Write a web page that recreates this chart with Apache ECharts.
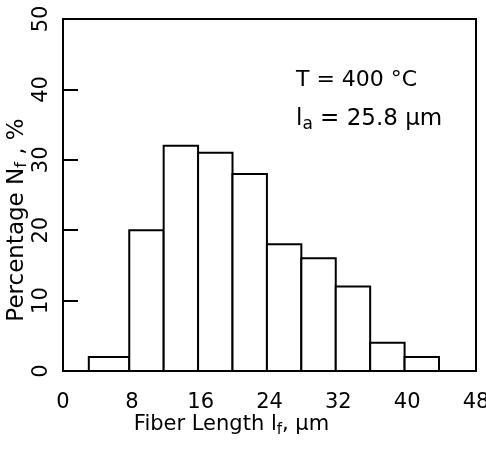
<!DOCTYPE html>
<html>
<head>
<meta charset="utf-8">
<script src="https://cdn.jsdelivr.net/npm/echarts@6/dist/echarts.min.js"></script>
<style>
html,body{margin:0;padding:0;background:#fff;}
#chart{width:486px;height:449px;}
</style>
</head>
<body>
<div id="chart"></div>
<script>
// Histogram bins (fiber length, µm)
const binStart = [3, 7.7, 11.7, 15.7, 19.7, 23.7, 27.7, 31.7, 35.7, 39.7];
const binEnd   = [7.7, 11.7, 15.7, 19.7, 23.7, 27.7, 31.7, 35.7, 39.7, 43.7];
const percentNf = [2, 20, 32, 31, 28, 18, 16, 12, 4, 2];
const xTickValues = [0, 8, 16, 24, 32, 40, 48];
const yTickValues = [0, 10, 20, 30, 40, 50];
const annotationT = 'T = 400 °C';
const annotationLa = ['l', 'a', ' = 25.8 μm'];

const FONT = 'DejaVu Sans';
const data = binStart.map((s, i) => [s, binEnd[i], percentNf[i]]);

const chart = echarts.init(document.getElementById('chart'), null, {renderer: 'canvas'});
chart.setOption({
  animation: false,
  backgroundColor: '#fff',
  grid: {left: 63, right: 10, top: 19, bottom: 78, outerBoundsMode: 'none', containLabel: false,
         show: true, borderColor: '#000', borderWidth: 2, backgroundColor: 'transparent'},
  xAxis: {
    type: 'value',
    min: xTickValues[0], max: xTickValues[xTickValues.length - 1], interval: 8,
    axisLine: {show: true, lineStyle: {color: '#000', width: 2}},
    axisTick: {show: false},
    splitLine: {show: false},
    axisLabel: {color: '#000', fontFamily: FONT, fontSize: 21, margin: 21},
    name: '{a|Fiber Length l}{s|f}{a|, μm}',
    nameLocation: 'middle',
    nameMoveOverlap: false,
    nameGap: 41,
    nameTextStyle: {
      padding: [0, 76, 0, 0],
      rich: {
        a: {fontFamily: FONT, fontSize: 21, color: '#000', lineHeight: 26, verticalAlign: 'middle'},
        s: {fontFamily: FONT, fontSize: 15, color: '#000', lineHeight: 14, verticalAlign: 'bottom'}
      }
    }
  },
  yAxis: {
    type: 'value',
    min: yTickValues[0], max: yTickValues[yTickValues.length - 1], interval: 10,
    axisLine: {show: true, lineStyle: {color: '#000', width: 2}},
    axisTick: {show: true, inside: true, length: 15, lineStyle: {color: '#000', width: 2}},
    splitLine: {show: false},
    axisLabel: {color: '#000', fontFamily: FONT, fontSize: 21, rotate: 90, margin: 11},
    name: '{a|Percentage N}{s|f}{a| , %}',
    nameLocation: 'middle',
    nameRotate: 90,
    nameMoveOverlap: false,
    nameGap: 33,
    nameTextStyle: {
      padding: [0, 50, 0, 0],
      rich: {
        a: {fontFamily: FONT, fontSize: 23, color: '#000', lineHeight: 26, verticalAlign: 'middle'},
        s: {fontFamily: FONT, fontSize: 16, color: '#000', lineHeight: 14, verticalAlign: 'bottom'}
      }
    }
  },
  series: [{
    type: 'custom',
    data: data,
    encode: {x: [0, 1], y: 2},
    renderItem: function (params, api) {
      const p0 = api.coord([api.value(0), api.value(2)]);
      const p1 = api.coord([api.value(1), 0]);
      return {
        type: 'rect',
        shape: {x: p0[0], y: p0[1], width: p1[0] - p0[0], height: p1[1] - p0[1]},
        style: {fill: '#fff', stroke: '#000', lineWidth: 2}
      };
    }
  }],
  graphic: [
    {type: 'text', left: 296, top: 69, z: 10,
     style: {text: annotationT, font: '22px "DejaVu Sans"', fill: '#000'}},
    {type: 'text', left: 296, top: 108, z: 10,
     style: {
       text: '{a|' + annotationLa[0] + '}{s|' + annotationLa[1] + '}{a|' + annotationLa[2] + '}',
       rich: {
         a: {fontFamily: FONT, fontSize: 23, fill: '#000', color: '#000', lineHeight: 28, verticalAlign: 'middle'},
         s: {fontFamily: FONT, fontSize: 17, fill: '#000', color: '#000', lineHeight: 15, verticalAlign: 'bottom'}
       }
     }}
  ]
});
</script>
</body>
</html>
